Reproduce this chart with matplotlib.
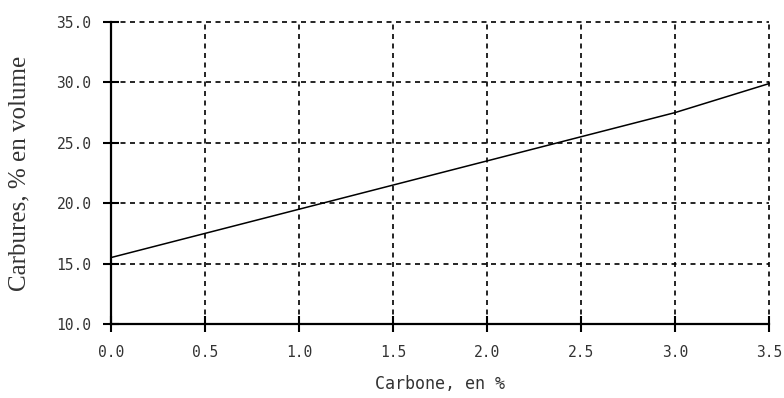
import matplotlib
matplotlib.use("Agg")
import matplotlib.pyplot as plt

carbone = [0.0, 0.5, 1.0, 1.5, 2.0, 2.5, 3.0, 3.5]
carbures = [15.5, 17.5, 19.5, 21.5, 23.5, 25.5, 27.5, 29.9]
xticks = [0.0, 0.5, 1.0, 1.5, 2.0, 2.5, 3.0, 3.5]
yticks = [10.0, 15.0, 20.0, 25.0, 30.0, 35.0]

fig = plt.figure(figsize=(7.84, 3.98), dpi=100)
ax = fig.add_axes([111/784, 1-324/398, (769-111)/784, (324-22)/398])

ax.plot(carbone, carbures, color="black", lw=1.1, zorder=3, clip_on=False)

ax.set_xlim(0, 3.5)
ax.set_ylim(10, 35)
ax.set_xticks(xticks)
ax.set_yticks(yticks)
ax.set_xticklabels([f"{v:.1f}" for v in xticks])
ax.set_yticklabels([f"{v:.1f}" for v in yticks])

ax.grid(True, color="black", linestyle=(0, (3.0, 2.7)), lw=1.2)
ax.set_axisbelow(True)
for gl in ax.get_xgridlines() + ax.get_ygridlines():
    gl.set_clip_on(False)

for s in ["top", "right"]:
    ax.spines[s].set_visible(False)
for s in ["left", "bottom"]:
    ax.spines[s].set_linewidth(1.6)
    ax.spines[s].set_zorder(5)

ax.tick_params(axis="both", direction="inout", length=12, width=1.5, colors="black",
               labelcolor="#333333")
ax.tick_params(axis="x", pad=9)
ax.tick_params(axis="y", pad=8)
for lab in ax.get_xticklabels() + ax.get_yticklabels():
    lab.set_fontfamily("DejaVu Sans Mono")
    lab.set_fontsize(10.5)

ax.set_xlabel("Carbone, en %", family="DejaVu Sans Mono", fontsize=12, color="#333333", labelpad=11)
ax.set_ylabel("Carbures, % en volume", family="Liberation Serif", fontsize=18, color="#333333", labelpad=19)

fig.savefig("out.png", dpi=100)
